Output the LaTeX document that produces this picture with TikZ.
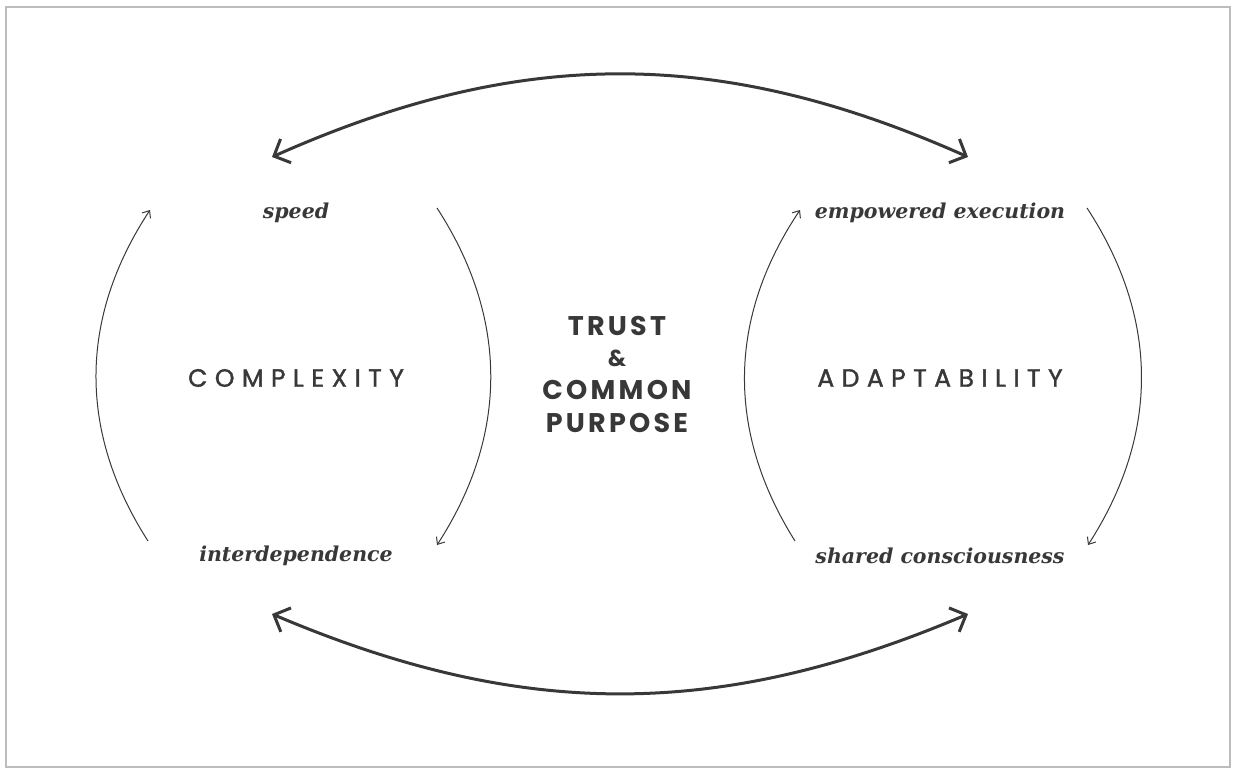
\documentclass[tikz,border=0pt]{standalone}
\usepackage{fontspec}
\setmainfont{DejaVu Serif}
\newfontfamily\widecaps[LetterSpace=30,FakeBold=1.5]{Poppins}
\newfontfamily\boldcaps[LetterSpace=12]{Poppins}
\usepackage{tikz}
\usetikzlibrary{arrows.meta, positioning}
\definecolor{inkgray}{HTML}{383838}
\definecolor{framegray}{HTML}{BDBDBD}

\begin{document}
\begin{tikzpicture}[x=1pt,y=-1pt,on grid,
    label/.style={text=inkgray, font=\bfseries\itshape\fontsize{20.5}{24}\selectfont},
    topic/.style={text=inkgray, font=\widecaps\fontsize{25}{28}\selectfont},
    core/.style={text=inkgray, align=center, font=\boldcaps\bfseries\fontsize{27}{34}\selectfont},
    cycle/.style={draw=inkgray, line width=1pt, bend left=33, -{Straight Barb[length=6pt,width=10pt]}},
    swing/.style={draw=inkgray, line width=3pt, {Straight Barb[length=13pt,width=26pt]}-{Straight Barb[length=13pt,width=26pt]}}]

    \useasboundingbox (0,0) rectangle (1237,773);
    \draw[framegray, line width=2pt] (6,7) rectangle (1230,767);

      \node[topic] (complexity) at (296,378)           {COMPLEXITY};
      \node[label] (speed)  [above=165pt of complexity] {speed};
      \node[label] (interdep) [below=178pt of complexity] {interdependence};

      \node[topic] (adaptability) at (940,378)         {ADAPTABILITY};
      \node[label] (empowered) [above=165pt of adaptability] {empowered execution};
      \node[label] (shared) [below=178pt of adaptability] {shared consciousness};

      \node[core] (trust) at (617,374) {TRUST\\[-3pt]{\fontsize{23}{24}\selectfont\&}\\[-1pt]COMMON\\[-1pt]PURPOSE};

      \coordinate (c_1) at (148,541);
      \coordinate (c_2) at (150,210);
      \coordinate (c_3) at (437,208);
      \coordinate (c_4) at (437,545);
      \coordinate (a_1) at (795,541);
      \coordinate (a_2) at (800,210);
      \coordinate (a_3) at (1087,208);
      \coordinate (a_4) at (1088,545);
      \coordinate (s_1) at (272,157);
      \coordinate (s_2) at (968,157);
      \coordinate (s_3) at (272,614);
      \coordinate (s_4) at (968,614);

      \path (c_1) edge[cycle] (c_2)
            (c_3) edge[cycle] (c_4)
            (a_1) edge[cycle] (a_2)
            (a_3) edge[cycle] (a_4);
      \path (s_1) edge[swing, bend left=24] (s_2)
            (s_3) edge[swing, bend right=23] (s_4);
    \end{tikzpicture}
\end{document}
